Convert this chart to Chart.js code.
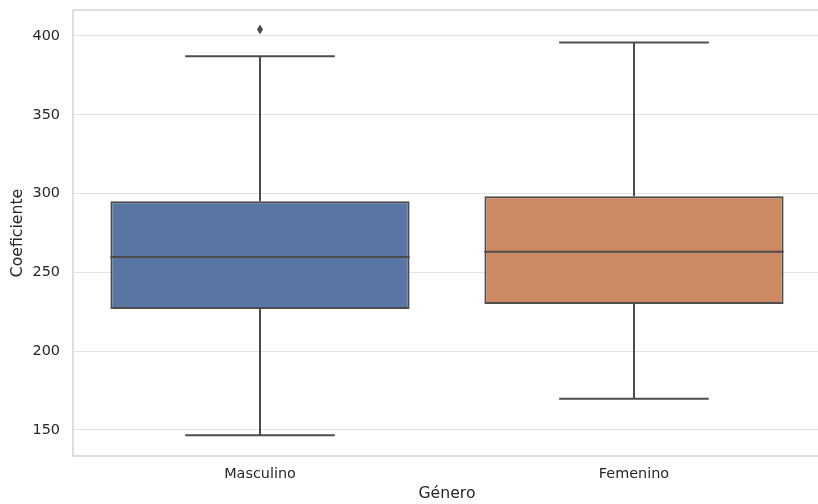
<!DOCTYPE html>
<html>
<head>
<meta charset="utf-8">
<script src="https://cdn.jsdelivr.net/npm/chart.js@4"></script>
<style>
html,body{margin:0;padding:0;overflow:hidden;background:#fff;}
#wrap{width:824px;height:504px;}
</style>
</head>
<body>
<div id="wrap"><canvas id="c" width="824" height="504"></canvas></div>
<script>
const categories = ['Masculino', 'Femenino'];
const whiskerLow = [146.7, 169.8];
const q1 = [226.8, 229.9];
const median = [259.8, 263.1];
const q3 = [295.1, 298.3];
const whiskerHigh = [387.2, 395.9];
const outliers = [[404.1], []];
const boxColors = ['#5875a4', '#cc8963'];
const yTicks = [150, 200, 250, 300, 350, 400];

const LINE = '#4c4c4c';
const FONT = 'DejaVu Sans';

const boxPlugin = {
  id: 'boxExtras',
  beforeDatasetsDraw(chart) {
    const ctx = chart.ctx, a = chart.chartArea;
    ctx.save();
    ctx.strokeStyle = '#cccccc';
    ctx.lineWidth = 1.25;
    ctx.strokeRect(a.left, a.top, a.right - a.left, a.bottom - a.top);
    ctx.restore();
  },
  afterDatasetsDraw(chart) {
    const ctx = chart.ctx;
    const xs = chart.scales.x, ys = chart.scales.y;
    const meta = chart.getDatasetMeta(0);
    ctx.save();
    ctx.strokeStyle = LINE;
    ctx.lineWidth = 2;
    ctx.lineCap = 'butt';
    categories.forEach((c, i) => {
      const bar = meta.data[i];
      const cx = xs.getPixelForValue(i);
      const half = bar.width / 2;
      const capHalf = half / 2;
      const yq1 = ys.getPixelForValue(q1[i]);
      const yq3 = ys.getPixelForValue(q3[i]);
      const ylo = ys.getPixelForValue(whiskerLow[i]);
      const yhi = ys.getPixelForValue(whiskerHigh[i]);
      const ymed = ys.getPixelForValue(median[i]);
      ctx.beginPath();
      ctx.moveTo(cx, yq3); ctx.lineTo(cx, yhi);
      ctx.moveTo(cx - capHalf, yhi); ctx.lineTo(cx + capHalf, yhi);
      ctx.moveTo(cx, yq1); ctx.lineTo(cx, ylo);
      ctx.moveTo(cx - capHalf, ylo); ctx.lineTo(cx + capHalf, ylo);
      ctx.moveTo(cx - half, ymed); ctx.lineTo(cx + half, ymed);
      ctx.stroke();
      ctx.fillStyle = LINE;
      outliers[i].forEach(v => {
        const py = ys.getPixelForValue(v);
        ctx.beginPath();
        ctx.moveTo(cx, py - 5);
        ctx.lineTo(cx + 3, py);
        ctx.lineTo(cx, py + 5);
        ctx.lineTo(cx - 3, py);
        ctx.closePath();
        ctx.fill();
      });
    });
    ctx.restore();
  }
};

new Chart(document.getElementById('c'), {
  type: 'bar',
  data: {
    labels: categories,
    datasets: [{
      data: categories.map((c, i) => [q1[i], q3[i]]),
      backgroundColor: boxColors,
      borderColor: LINE,
      borderWidth: 2,
      borderSkipped: false,
      categoryPercentage: 0.8,
      barPercentage: 1.0
    }]
  },
  options: {
    responsive: false,
    animation: false,
    devicePixelRatio: 1,
    layout: { padding: { top: 10, right: 3, left: 0, bottom: 0 } },
    plugins: { legend: { display: false }, tooltip: { enabled: false } },
    scales: {
      x: {
        grid: { display: false, drawTicks: false },
        border: { display: false },
        ticks: { color: '#262626', font: { family: FONT, size: 14.4 }, padding: 10 },
        title: { display: true, text: 'Género', color: '#262626', font: { family: FONT, size: 15.7 }, padding: { top: 0, bottom: 0.6 } },
        afterFit(s) { s.height = 48; s.paddingLeft = 0; s.paddingRight = 0; }
      },
      y: {
        min: 133.5,
        max: 416.5,
        afterBuildTicks(s) { s.ticks = yTicks.map(v => ({ value: v })); },
        grid: { color: '#e3e3e3', lineWidth: 1.1, drawTicks: false },
        border: { display: false },
        ticks: { color: '#262626', font: { family: FONT, size: 14.4 }, padding: 13 },
        title: { display: true, text: 'Coeficiente', color: '#262626', font: { family: FONT, size: 15.7 }, padding: { top: 8.6, bottom: 0 } },
        afterFit(s) { s.width = 73; s.paddingTop = 0; s.paddingBottom = 0; }
      }
    }
  },
  plugins: [boxPlugin]
});
</script>
</body>
</html>
